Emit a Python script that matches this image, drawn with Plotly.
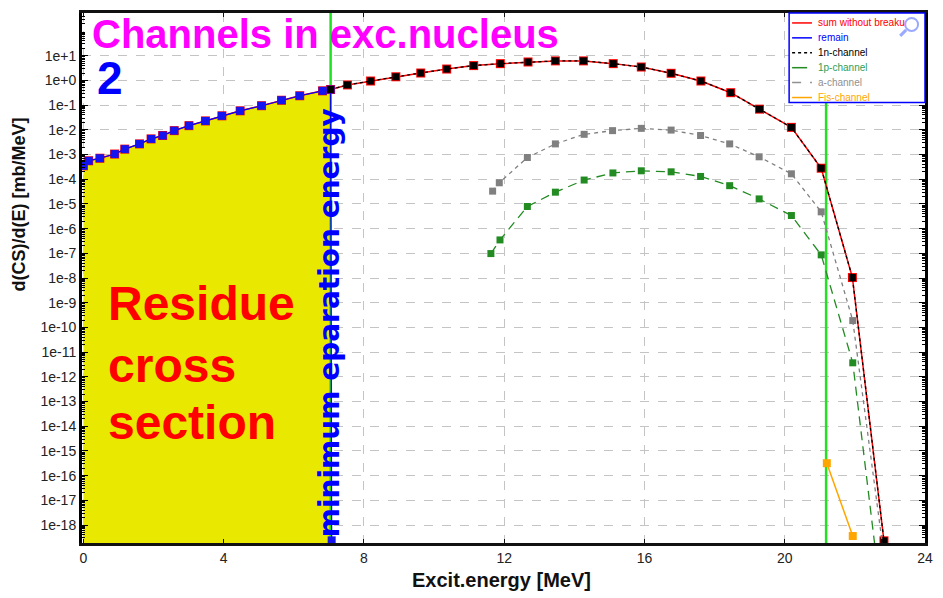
import plotly.graph_objects as go

# ---- data -------------------------------------------------------------
# excitation energies (MeV) below the minimum separation energy
e_low = [0.0, 0.15, 0.47, 0.89, 1.18, 1.60, 1.93, 2.26, 2.59, 3.01, 3.48,
         3.95, 4.47, 5.08, 5.65, 6.17, 6.82]
remain_low = [3.5e-4, 5.6e-4, 7.1e-4, 1.05e-3, 1.66e-3, 2.7e-3, 4.3e-3,
              5.9e-3, 9.3e-3, 1.48e-2, 2.3e-2, 3.7e-2, 5.9e-2, 9.5e-2,
              0.158, 0.24, 0.38]
# remain channel closes at the separation energy
e_remain_end = [7.05, 7.08]
remain_end = [0.43, 2.4e-19]

# excitation energies above the separation energy
e_high = [7.05, 7.53, 8.19, 8.91, 9.62, 10.36, 11.13, 11.89, 12.68, 13.46,
          14.26, 15.11, 15.91, 16.76, 17.61, 18.46, 19.28, 20.19, 21.04,
          21.93, 22.83]
n1_high = [0.43, 0.66, 0.95, 1.41, 2.0, 2.9, 4.0, 4.8, 5.6, 6.2, 6.2, 4.8,
           3.5, 1.95, 0.95, 0.32, 6.9e-2, 1.26e-2, 2.8e-4, 1.05e-8, 2.3e-19]

e_a = [11.67, 11.86, 12.66, 13.46, 14.28, 15.09, 15.91, 16.76, 17.60, 18.43,
       19.27, 20.19, 21.04, 21.94, 22.83]
a_chan = [3.3e-5, 7.2e-5, 7.6e-4, 2.7e-3, 6.6e-3, 9.3e-3, 1.15e-2, 9.8e-3,
          5.9e-3, 2.7e-3, 8.1e-4, 1.66e-4, 4.8e-6, 1.9e-10, 5.6e-20]

e_p = [11.62, 11.88, 12.66, 13.46, 14.28, 15.10, 15.91, 16.76, 17.60, 18.43,
       19.27, 20.19, 21.04, 21.94, 22.83]
p_chan = [9.8e-8, 3.5e-7, 7.9e-6, 3.0e-5, 9.3e-5, 1.8e-4, 2.2e-4, 2.0e-4,
          1.3e-4, 5.5e-5, 1.6e-5, 3.4e-6, 8.7e-8, 3.7e-12, 1.3e-22]

e_fis = [21.20, 21.94]
fis_chan = [3.2e-16, 3.6e-19]

# separation energies marked with vertical lines
sep_energies = [7.05, 21.18]

x_ticks = [0, 4, 8, 12, 16, 20, 24]
y_exps = list(range(1, -19, -1))
y_ticktext = ["1e+1" if k > 0 else ("1e+0" if k == 0 else "1e%d" % k) for k in y_exps]

legend_names = ["sum without breaku", "remain", "1n-channel", "1p-channel",
                "a-channel", "Fis-channel"]
legend_colors = ["#ff0000", "#0000ff", "#000000", "#2e9e57", "#909090", "#ffa500"]
legend_dash = ["solid", "solid", "dot", "longdash", "dash", "solid"]

# ---- geometry helpers --------------------------------------------------
W, H = 943, 598
ML, MR, MT, MB = 82, 11, 10, 55
PW, PH = W - ML - MR, H - MT - MB


def px(x):
    return (x - ML) / PW


def py(y):
    return (H - MB - y) / PH


FONT = "Liberation Sans, Arial, sans-serif"
BOTTOM = 1e-20

fig = go.Figure()

# yellow residue region under the remain curve
fill_x = e_low + [e_remain_end[0], e_remain_end[0], e_low[0]]
fill_y = remain_low + [remain_end[0], BOTTOM, BOTTOM]
fig.add_trace(go.Scatter(x=fill_x, y=fill_y, fill="toself", mode="none",
                         fillcolor="#e8e800", showlegend=False, hoverinfo="skip"))

# separation energy markers
for e in sep_energies:
    fig.add_trace(go.Scatter(x=[e, e], y=[BOTTOM, 1e3], mode="lines",
                             line=dict(color="#22e022", width=2.5),
                             showlegend=False, hoverinfo="skip"))

sum_e = e_low + e_high
sum_v = remain_low + n1_high
fig.add_trace(go.Scatter(x=sum_e, y=sum_v, mode="lines+markers",
                         line=dict(color="#ff0000", width=1.5),
                         marker=dict(symbol="square", size=9, color="#ff0000"),
                         name=legend_names[0], showlegend=False))

fig.add_trace(go.Scatter(x=e_low + e_remain_end, y=remain_low + remain_end,
                         mode="lines+markers",
                         line=dict(color="#0000ff", width=1.2),
                         marker=dict(symbol="square", size=8, color="#1414f0"),
                         name=legend_names[1], showlegend=False))

fig.add_trace(go.Scatter(x=e_high, y=n1_high, mode="lines+markers",
                         line=dict(color="#000000", width=1.3, dash="3px,3px"),
                         marker=dict(symbol="square", size=7, color="#000000"),
                         name=legend_names[2], showlegend=False))

fig.add_trace(go.Scatter(x=e_p, y=p_chan, mode="lines+markers",
                         line=dict(color="#228b22", width=1.3, dash="9px,6px"),
                         marker=dict(symbol="square", size=7, color="#228b22"),
                         name=legend_names[3], showlegend=False))

fig.add_trace(go.Scatter(x=e_a, y=a_chan, mode="lines+markers",
                         line=dict(color="#808080", width=1.3, dash="4px,4px"),
                         marker=dict(symbol="square", size=7, color="#808080"),
                         name=legend_names[4], showlegend=False))

fig.add_trace(go.Scatter(x=e_fis, y=fis_chan, mode="lines+markers",
                         line=dict(color="#ffa500", width=1.5),
                         marker=dict(symbol="square", size=8, color="#ffa500"),
                         name=legend_names[5], showlegend=False))

# ---- legend box --------------------------------------------------------
shapes = []
annotations = []
lx0, lx1, ly0, ly1 = 795, 932, 10, 100
shapes.append(dict(type="rect", xref="paper", yref="paper", layer="above",
                   x0=px(lx0), x1=px(lx1), y0=py(ly1), y1=py(ly0),
                   fillcolor="white", line=dict(color="#0000ff", width=1.5)))
for i, (nm, col, ds) in enumerate(zip(legend_names, legend_colors, legend_dash)):
    yy = 20 + 15 * i
    line_col = "#228b22" if i == 3 else col
    shapes.append(dict(type="line", xref="paper", yref="paper", layer="above",
                       x0=px(798), x1=px(818), y0=py(yy), y1=py(yy),
                       line=dict(color=line_col, width=1.5, dash=ds)))
    annotations.append(dict(xref="paper", yref="paper", x=px(822), y=py(yy),
                            xanchor="left", yanchor="middle", showarrow=False,
                            text=nm, font=dict(family=FONT, size=10, color=col)))

# magnifier glyph in the legend corner
shapes.append(dict(type="circle", xref="paper", yref="paper", layer="above",
                   x0=px(912), x1=px(925), y0=py(28), y1=py(15),
                   line=dict(color="#9aa8ff", width=2)))
shapes.append(dict(type="line", xref="paper", yref="paper", layer="above",
                   x0=px(913), x1=px(907), y0=py(27), y1=py(33),
                   line=dict(color="#9aa8ff", width=3)))

# ---- texts -------------------------------------------------------------
annotations.append(dict(xref="paper", yref="paper", x=px(91), y=py(31),
                        xanchor="left", yanchor="middle", showarrow=False,
                        height=34, borderpad=0,
                        text="<b>Channels in exc.nucleus</b>",
                        font=dict(family=FONT, size=40, color="#ff00ff")))
annotations.append(dict(xref="paper", yref="paper", x=px(96), y=py(75),
                        xanchor="left", yanchor="middle", showarrow=False,
                        height=38, borderpad=0,
                        text="<b>2</b>",
                        font=dict(family=FONT, size=46, color="#0000ff")))
for txt, base in [("Residue", 320), ("cross", 382), ("section", 440)]:
    annotations.append(dict(xref="paper", yref="paper", x=px(106), y=py(base - 18),
                            xanchor="left", yanchor="middle", showarrow=False,
                            text="<b>%s</b>" % txt,
                            font=dict(family=FONT, size=48, color="#ff0000")))
annotations.append(dict(xref="paper", yref="paper", x=px(331), y=py(321),
                        xanchor="center", yanchor="middle", showarrow=False,
                        textangle=-90, text="<b>minimum eparation energy</b>",
                        font=dict(family="DejaVu Sans, sans-serif", size=28,
                                  color="#0000ff")))
annotations.append(dict(xref="paper", yref="paper", x=px(18), y=py(203),
                        xanchor="center", yanchor="middle", showarrow=False,
                        textangle=-90, text="<b>d(CS)/d(E) [mb/MeV]</b>",
                        font=dict(family=FONT, size=18, color="#111111")))
annotations.append(dict(xref="paper", yref="paper", x=px(505), y=py(580),
                        xanchor="center", yanchor="middle", showarrow=False,
                        text="<b>Excit.energy [MeV]</b>",
                        font=dict(family=FONT, size=20, color="#111111")))

minor_vals = [m * 10.0 ** k for k in range(-19, 3) for m in range(2, 10)]

fig.update_layout(
    width=W, height=H,
    margin=dict(l=ML, r=MR, t=MT, b=MB, pad=0),
    paper_bgcolor="white", plot_bgcolor="white",
    showlegend=False,
    shapes=shapes, annotations=annotations,
    xaxis=dict(range=[-0.04, 24.0], tickvals=x_ticks,
               ticktext=[str(v) for v in x_ticks],
               showgrid=True, gridcolor="#c4c4c4", griddash="dash", gridwidth=1,
               zeroline=False, showline=True, linecolor="#111111", linewidth=2.5,
               mirror="allticks", ticks="inside", ticklen=4, tickcolor="#111111",
               tickfont=dict(family=FONT, size=14, color="#222222")),
    yaxis=dict(type="log", range=[-18.726, 2.731],
               tickvals=[10.0 ** k for k in y_exps], ticktext=y_ticktext,
               showgrid=True, gridcolor="#c4c4c4", griddash="dash", gridwidth=1,
               zeroline=False, showline=True, linecolor="#000000", linewidth=3,
               mirror="allticks", ticks="inside", ticklen=6, tickcolor="#000000",
               minor=dict(tickvals=minor_vals, ticks="inside", ticklen=3,
                          tickcolor="#000000", showgrid=False),
               tickfont=dict(family=FONT, size=14, color="#222222")),
)

fig.write_html("out.html")
